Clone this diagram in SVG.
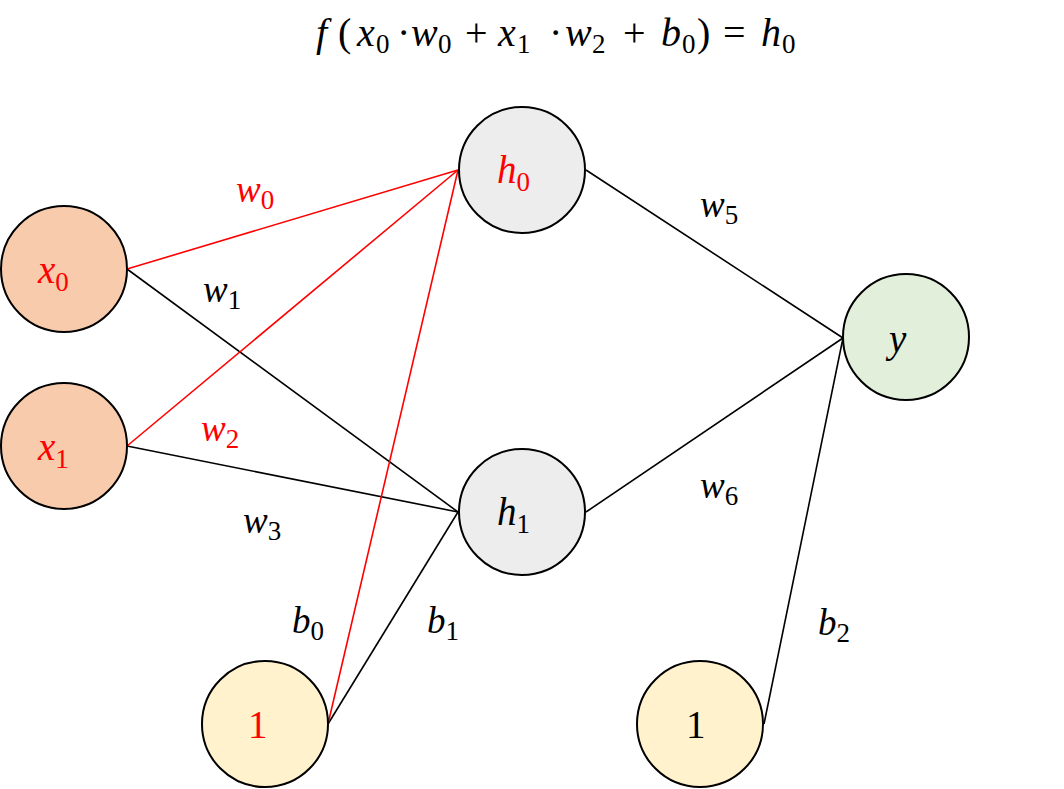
<svg xmlns="http://www.w3.org/2000/svg" width="1064" height="789" viewBox="0 0 1064 789">
<style>
.n{stroke:#000;stroke-width:2}
.in{fill:#f8cbad}
.hid{fill:#ededed}
.out{fill:#e2efda}
.bias{fill:#fff2cc}
.e{stroke:#000;stroke-width:1.6;fill:none}
.r{stroke:#ff0000}
text{font-family:"Liberation Serif","DejaVu Serif",serif;font-style:italic;font-size:37px}
.lab{font-size:39px}
.f{font-size:40px}
.red{fill:#ff0000}
.s{font-style:normal;font-size:27px}
.up{font-style:normal}
</style>
<rect width="1064" height="789" fill="#fff"/>
<text class="f" y="46"><tspan x="316">f</tspan><tspan x="338" class="up">(</tspan><tspan x="357">x</tspan><tspan class="s" x="376" dy="7">0</tspan><tspan class="up" x="397" dy="-7">·</tspan><tspan x="411">w</tspan><tspan class="s" x="438" dy="7">0</tspan><tspan class="up" x="465" dy="-7">+</tspan><tspan x="498">x</tspan><tspan class="s" x="517" dy="7">1</tspan><tspan class="up" x="549" dy="-7">·</tspan><tspan x="565">w</tspan><tspan class="s" x="592" dy="7">2</tspan><tspan class="up" x="623" dy="-7">+</tspan><tspan x="661">b</tspan><tspan class="s" x="682" dy="7">0</tspan><tspan class="up" x="697" dy="-7">)</tspan><tspan class="up" x="723">=</tspan><tspan x="761">h</tspan><tspan class="s" x="782" dy="7">0</tspan></text>
<g id="connectors">
<line class="e" x1="127" y1="269" x2="458" y2="512"/>
<line class="e" x1="127" y1="446" x2="458" y2="512"/>
<line class="e" x1="328" y1="724" x2="458" y2="512"/>
<line class="e" x1="586" y1="170" x2="843" y2="338"/>
<line class="e" x1="586" y1="512" x2="843" y2="338"/>
<line class="e" x1="764" y1="724" x2="843" y2="338"/>
<line class="e r" x1="127" y1="269" x2="458" y2="170"/>
<line class="e r" x1="127" y1="446" x2="458" y2="170"/>
<line class="e r" x1="328" y1="724" x2="458" y2="170"/>
</g>
<g id="edge-labels">
<text class="red" x="236" y="202">w<tspan class="s" dy="7">0</tspan></text>
<text x="203" y="302">w<tspan class="s" dy="7">1</tspan></text>
<text class="red" x="201" y="441">w<tspan class="s" dy="7">2</tspan></text>
<text x="243" y="533">w<tspan class="s" dy="7">3</tspan></text>
<text x="700" y="217">w<tspan class="s" dy="7">5</tspan></text>
<text x="700" y="498">w<tspan class="s" dy="7">6</tspan></text>
<text x="292" y="633">b<tspan class="s" dy="7">0</tspan></text>
<text x="427" y="633">b<tspan class="s" dy="7">1</tspan></text>
<text x="818" y="635">b<tspan class="s" dy="7">2</tspan></text>
</g>
<g id="x0"><circle class="n in" cx="64" cy="269" r="63"/><text class="lab red" x="38" y="283">x<tspan class="s" dy="8">0</tspan></text></g>
<g id="x1"><circle class="n in" cx="64" cy="446" r="63"/><text class="lab red" x="38" y="460">x<tspan class="s" dy="8">1</tspan></text></g>
<g id="h0"><circle class="n hid" cx="522" cy="170" r="63"/><text class="lab red" x="497" y="183">h<tspan class="s" dy="8">0</tspan></text></g>
<g id="h1"><circle class="n hid" cx="522" cy="512" r="63"/><text class="lab" x="497" y="525">h<tspan class="s" dy="8">1</tspan></text></g>
<g id="y"><circle class="n out" cx="906" cy="337" r="63"/><text class="lab" x="889" y="352">y</text></g>
<g id="bias0"><circle class="n bias" cx="265" cy="724" r="63"/><text class="lab red up" x="248" y="738">1</text></g>
<g id="bias1"><circle class="n bias" cx="700" cy="724" r="63"/><text class="lab up" x="686" y="738">1</text></g>
</svg>
